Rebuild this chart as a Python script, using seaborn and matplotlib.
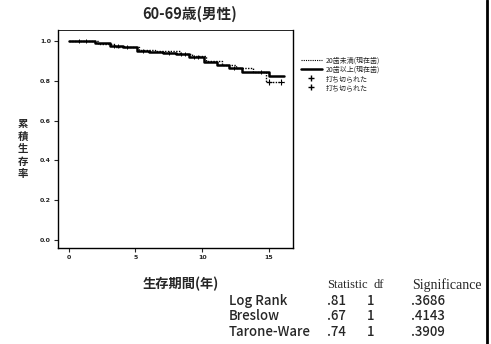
import matplotlib
matplotlib.use("Agg")
import matplotlib.pyplot as plt
import seaborn as sns
import pandas as pd
from matplotlib.lines import Line2D

# ---------------- data ----------------
title = "60-69歳(男性)"
group_labels = ["20歯未満(現在歯)", "20歯以上(現在歯)"]
censor_label = "打ち切られた"

times_hi = [0, 1.95, 3.1, 4.1, 5.1, 6.0, 7.1, 8.0, 9.0, 10.1, 11.1, 12.0, 13.0, 15.0, 16.1]
surv_hi = [1.0, 0.99, 0.975, 0.968, 0.951, 0.943, 0.938, 0.933, 0.921, 0.896, 0.879, 0.863, 0.843, 0.824, 0.824]

times_lo = [0, 2.2, 3.5, 5.3, 6.5, 8.3, 9.2, 10.3, 11.5, 12.5, 13.8, 14.8, 16.1]
surv_lo = [1.0, 0.985, 0.97, 0.955, 0.948, 0.935, 0.925, 0.9, 0.88, 0.862, 0.845, 0.795, 0.795]

cens_hi_t = [0.8, 1.3, 3.4, 3.7, 4.4, 5.6, 7.5, 8.4, 8.7, 9.4, 9.7, 12.4, 14.4]
cens_hi_s = [1.0, 1.0, 0.975, 0.975, 0.968, 0.951, 0.938, 0.933, 0.933, 0.921, 0.921, 0.863, 0.843]
cens_lo_t = [15.0, 15.9]
cens_lo_s = [0.795, 0.795]

xticks = [0, 5, 10, 15]
yticks = [0.0, 0.2, 0.4, 0.6, 0.8, 1.0]
ytick_labels = ["0.0", "0.2", "0.4", "0.6", "0.8", "1.0"]

test_names = ["Log Rank", "Breslow", "Tarone-Ware"]
test_stat = [".81", ".67", ".74"]
test_df = ["1", "1", "1"]
test_sig = [".3686", ".4143", ".3909"]

# ---------------- figure ----------------
sns.set_style("ticks")
plt.rcParams["font.family"] = ["Noto Sans CJK JP", "DejaVu Sans"]

W, H = 491, 344
fig = plt.figure(figsize=(W / 100, H / 100), dpi=100)
ax = fig.add_axes([58 / W, 1 - 248 / H, (293 - 58) / W, (248 - 30) / H])

df_lo = pd.DataFrame({"t": times_lo, "s": surv_lo, "g": group_labels[0]})
df_hi = pd.DataFrame({"t": times_hi, "s": surv_hi, "g": group_labels[1]})

sns.lineplot(data=df_lo, x="t", y="s", ax=ax, color="black", lw=1.0,
             linestyle=(0, (1, 1)), drawstyle="steps-post", estimator=None,
             sort=True, legend=False)
sns.lineplot(data=df_hi, x="t", y="s", ax=ax, color="black", lw=1.8,
             drawstyle="steps-post", estimator=None, sort=True, legend=False)
sns.scatterplot(x=cens_hi_t, y=cens_hi_s, ax=ax, marker="+", color="black",
                s=12, linewidth=0.7, legend=False)
sns.scatterplot(x=cens_lo_t, y=cens_lo_s, ax=ax, marker="+", color="black",
                s=14, linewidth=0.8, legend=False)

ax.set_xlim(-0.8, 16.8)
ax.set_ylim(-0.04, 1.055)
ax.set_xticks(xticks)
ax.set_xticklabels([str(v) for v in xticks], fontsize=4.5, family="DejaVu Sans",
                   fontweight="bold")
ax.set_yticks(yticks)
ax.set_yticklabels(ytick_labels, fontsize=4.5, family="DejaVu Sans", fontweight="bold")
ax.tick_params(length=3, width=0.8, pad=2)
ax.set_xlabel("")
ax.set_ylabel("")
for sp in ax.spines.values():
    sp.set_visible(True)
    sp.set_color("black")
    sp.set_linewidth(1.0)
ax.spines["top"].set_linewidth(0.6)

# legend
handles = [
    Line2D([], [], color="black", lw=0.8, linestyle=(0, (1, 1))),
    Line2D([], [], color="black", lw=1.8),
    Line2D([], [], color="black", marker="+", lw=0, markersize=4),
    Line2D([], [], color="black", marker="+", lw=0, markersize=4),
]
labels = [group_labels[0], group_labels[1], censor_label, censor_label]
fig.legend(handles, labels, loc="upper left", bbox_to_anchor=(298 / W, 1 - 54 / H),
           frameon=False, fontsize=5, handlelength=3, handletextpad=0.6,
           labelspacing=0.15, borderaxespad=0)

# titles / labels
fig.text(190 / W, 1 - 14 / H, title, ha="center", va="center", fontsize=10.5,
         fontweight="bold")
for i, ch in enumerate("累積生存率"):
    fig.text(23 / W, 1 - (124 + i * 12.5) / H, ch, ha="center", va="center",
             fontsize=7.5, fontweight="bold")
fig.text(181 / W, 1 - 284 / H, "生存期間(年)", ha="center", va="center",
         fontsize=9.5, fontweight="bold")

# statistics table
serif = "Liberation Serif"
fig.text(327 / W, 1 - 285 / H, "Statistic", ha="left", va="center", fontsize=9, family=serif)
fig.text(373 / W, 1 - 285 / H, "df", ha="left", va="center", fontsize=9, family=serif)
fig.text(412 / W, 1 - 285 / H, "Significance", ha="left", va="center", fontsize=10, family=serif)
for i in range(len(test_names)):
    y = 1 - (301 + i * 15.5) / H
    fig.text(229 / W, y, test_names[i], ha="left", va="center", fontsize=9.5, fontweight="medium")
    fig.text(327 / W, y, test_stat[i], ha="left", va="center", fontsize=9.5, fontweight="medium")
    fig.text(367 / W, y, test_df[i], ha="left", va="center", fontsize=9.5, fontweight="medium")
    fig.text(411 / W, y, test_sig[i], ha="left", va="center", fontsize=9.5, fontweight="medium")

# right border line of the scanned page
fig.add_artist(Line2D([487 / W, 487 / W], [0, 1], transform=fig.transFigure,
                      color="black", lw=2.0))

fig.savefig("out.png", dpi=100)
